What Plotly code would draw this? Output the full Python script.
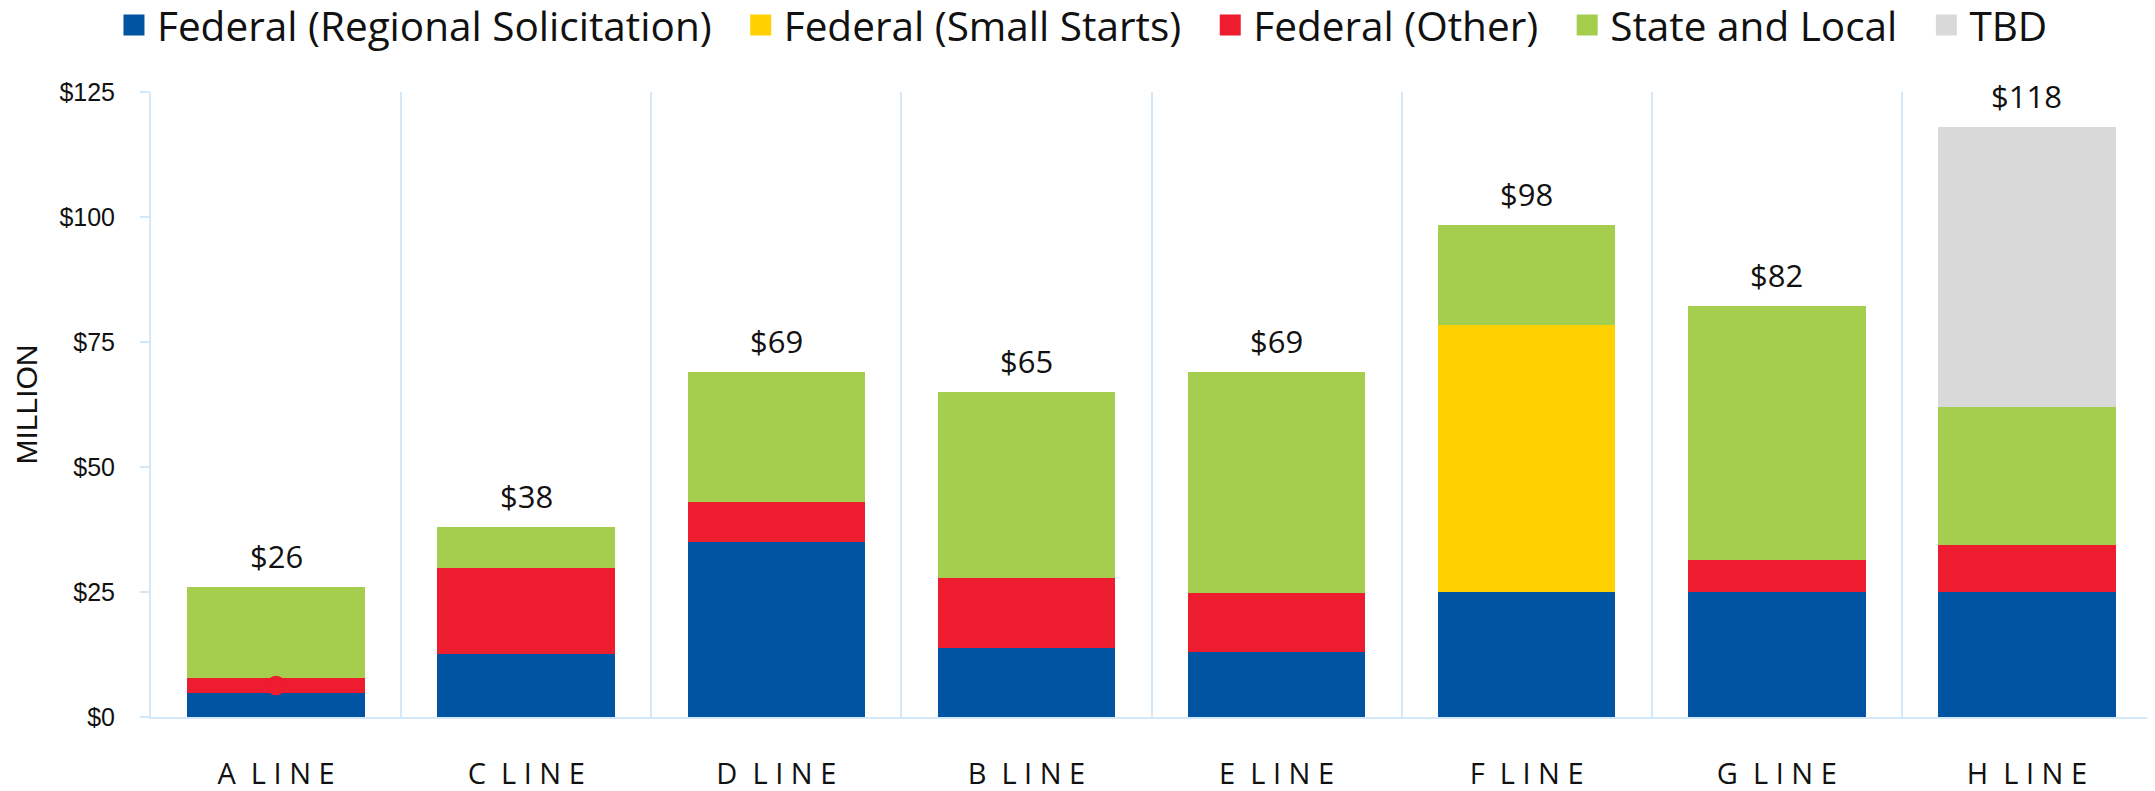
import plotly.graph_objects as go

categories = ["A LINE", "C LINE", "D LINE", "B LINE", "E LINE", "F LINE", "G LINE", "H LINE"]
fed_regional = [4.9, 12.7, 35.0, 13.8, 13.0, 25.0, 25.0, 25.0]
fed_small_starts = [0, 0, 0, 0, 0, 53.4, 0, 0]
fed_other = [2.9, 17.2, 8.0, 14.0, 11.8, 0, 6.5, 9.4]
state_local = [18.2, 8.1, 26.0, 37.2, 44.2, 20.0, 50.8, 27.6]
tbd = [0, 0, 0, 0, 0, 0, 0, 56.0]
marker_cat = ["A LINE"]
marker_val = [6.3]
y_ticks = [0, 25, 50, 75, 100, 125]

series = [
    ("Federal (Regional Solicitation)", fed_regional, "#0054A2"),
    ("Federal (Small Starts)", fed_small_starts, "#FFD100"),
    ("Federal (Other)", fed_other, "#ED1C2E"),
    ("State and Local", state_local, "#A6CE4E"),
    ("TBD", tbd, "#D9D9D9"),
]

totals = [sum(v[i] for _, v, _ in series) for i in range(len(categories))]
total_labels = ["$%d" % int(t) for t in totals]

GEO = "Open Sans, Lato, sans-serif"
ARIAL = "Liberation Sans, Arial, sans-serif"
GRID = "#D3E8F8"

def spaced(s):
    words = s.split(" ")
    return " \u00a0".join(" ".join(list(w)) for w in words)

fig = go.Figure()
for name, vals, color in series:
    fig.add_trace(go.Bar(x=categories, y=vals, name=name, marker_color=color,
                         marker_line_width=0, showlegend=False))
n_series = len(series)
for i, (name, vals, color) in enumerate(series):
    label = name + ("\u00a0\u00a0" if i < n_series - 1 else "")
    fig.add_trace(go.Scatter(x=[None], y=[None], mode="markers", name=label,
                             marker=dict(symbol="square", size=16, color=color,
                                         line=dict(width=5, color=color))))

fig.add_trace(go.Scatter(x=marker_cat, y=marker_val, mode="markers",
                         marker=dict(symbol="circle-open", size=17, color="#ED1C2E",
                                     line=dict(width=2.5, color="#ED1C2E")),
                         showlegend=False, hoverinfo="skip"))

for c, t, lab in zip(categories, totals, total_labels):
    fig.add_annotation(x=c, y=t, text=lab, showarrow=False, yshift=31, yanchor="middle",
                       font=dict(size=31, family=GEO, color="#111"))

# page body has an 8px default margin: figure is sized/offset to compensate
fig.update_layout(
    width=2147, height=783,
    barmode="stack", bargap=0.29,
    plot_bgcolor="white", paper_bgcolor="white",
    margin=dict(l=143, r=3, t=84, b=74, autoexpand=False),
    font=dict(family=GEO, color="#111"),
    legend=dict(orientation="h", x=-0.02, xanchor="left", y=1.107, yanchor="middle",
                font=dict(size=40.5, family=GEO), itemsizing="trace", traceorder="normal",
                itemwidth=36, tracegroupgap=0),
)
fig.update_xaxes(
    type="category", tickson="boundaries",
    tickvals=categories, ticktext=[spaced(c) for c in categories],
    showgrid=True, gridcolor=GRID, gridwidth=2,
    showline=True, linecolor=GRID, linewidth=2,
    ticks="", tickfont=dict(size=29, family=GEO, color="#111"),
    ticklabelstandoff=30, range=[-0.5, 7.5],
)
fig.update_yaxes(
    range=[0, 125], tickvals=y_ticks, ticktext=["$%d" % v for v in y_ticks],
    showgrid=False, zeroline=False,
    showline=True, linecolor=GRID, linewidth=2,
    ticks="outside", ticklen=9, tickcolor=GRID, tickwidth=2,
    tickfont=dict(size=25, family=ARIAL, color="#111"), ticklabelstandoff=20,
    title=dict(text="MILLION", font=dict(size=30, family=ARIAL, color="#111"), standoff=13),
)

fig.write_html("out.html")
